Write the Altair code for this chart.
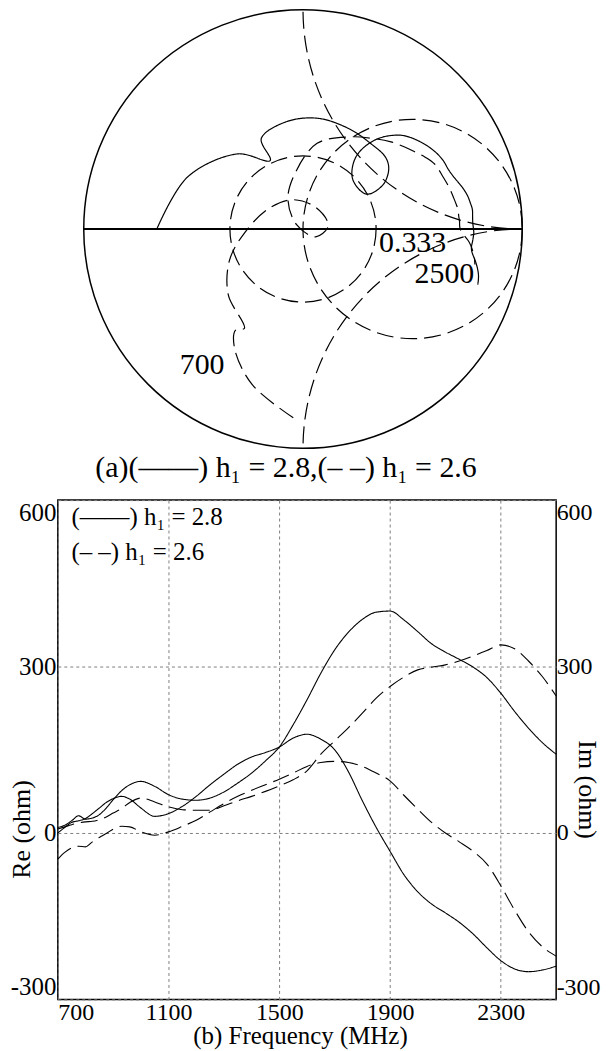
import altair as alt
import numpy as np
import pandas as pd

FONT = "Liberation Serif"

# ---------------- data ----------------
freq = [700, 725, 750, 775, 800, 825, 850, 875, 900, 930, 960,
        1000, 1050, 1100, 1150, 1200, 1250, 1300, 1350, 1400, 1450,
        1500, 1550, 1600, 1650, 1700, 1750, 1800, 1850, 1900, 1950,
        2000, 2050, 2100, 2150, 2200, 2250, 2300, 2350, 2400, 2450, 2500]

re_28 = [10, 14, 22, 31, 25, 27, 33, 45, 60, 76, 87,
         93, 84, 69, 61, 59, 63, 74, 90, 108, 130,
         155, 195, 240, 288, 330, 362, 385, 398, 400, 384,
         363, 341, 326, 313, 299, 280, 252, 219, 189, 163, 142]
im_28 = [0, 10, 19, 22, 26, 35, 45, 55, 62, 66, 61,
         45, 30, 35, 48, 66, 87, 106, 124, 137, 145,
         155, 171, 178, 169, 150, 110, 58, 10, -33, -75,
         -106, -128, -144, -161, -182, -207, -230, -245, -250, -247, -240]
re_26 = [7, 11, 15, 18, 20, 21, 24, 29, 36, 44, 55,
         63, 56, 47, 42, 41, 41, 49, 58, 66, 75,
         85, 96, 112, 142, 166, 190, 216, 243, 264, 281,
         294, 299, 303, 310, 319, 329, 339, 332, 310, 282, 247]
im_26 = [-47, -35, -27, -24, -25, -16, -8, -1, 7, 12, 11,
         2, -4, 2, 12, 23, 38, 53, 66, 77, 87,
         97, 108, 120, 127, 129, 127, 120, 108, 94, 68,
         43, 19, 0, -16, -33, -56, -95, -139, -178, -205, -222]

h_values = ["2.8", "2.6"]
z0 = 50.0

x_ticks = [700, 1100, 1500, 1900, 2300]
y_ticks = [-300, 0, 300, 600]

legend_text = ["(\u2014\u2014) h\u2081 = 2.8", "(\u2013 \u2013) h\u2081 = 2.6"]
smith_labels = ["700", "0.333", "2500"]

# Smith chart furniture: circle centres and radii (reflection-coefficient units)
grid_cx = [0.0, 0.5, 0.0, 1.0, 1.0]
grid_cy = [0.0, 0.0, 0.0, 1.0, -1.0]
grid_r = [1.0, 0.5, 1.0 / 3.0, 1.0, 1.0]

# ---------------- tables ----------------
rows = []
for h, re_v, im_v in [("2.8", re_28, im_28), ("2.6", re_26, im_26)]:
    for kind, vals in [("Re", re_v), ("Im", im_v)]:
        for f, v in zip(freq, vals):
            rows.append({"freq": f, "value": v, "h": h, "series": kind + h})
long_df = pd.DataFrame(rows)

srows = []
for h, re_v, im_v in [("2.8", re_28, im_28), ("2.6", re_26, im_26)]:
    z = (np.array(re_v, dtype=float) + 1j * np.array(im_v, dtype=float)) / z0
    g = (z - 1) / (z + 1)
    for i, (f, gv) in enumerate(zip(freq, g)):
        srows.append({"idx": i, "freq": f, "gr": gv.real, "gi": gv.imag, "h": h})
smith_df = pd.DataFrame(srows)

# ---------------- Smith chart ----------------
PX = 220.0  # pixels per unit of reflection coefficient
sx = alt.Scale(domain=[-1, 1], nice=False, zero=False)
sy = alt.Scale(domain=[-1, 1], nice=False, zero=False)
dash_pat = [17, 7]


def grid_circle(i, dashed, clip, width):
    d = pd.DataFrame({"gx": [grid_cx[i]], "gy": [grid_cy[i]]})
    kw = dict(shape="circle", filled=False, size=(2 * grid_r[i] * PX) ** 2,
              color="black", opacity=1, strokeWidth=width, clip=clip)
    if dashed:
        kw["strokeDash"] = dash_pat
    return alt.Chart(d).mark_point(**kw).encode(
        x=alt.X("gx:Q", scale=sx, axis=None),
        y=alt.Y("gy:Q", scale=sy, axis=None),
    )


outer = grid_circle(0, False, False, 1.5)
r1 = grid_circle(1, True, False, 1.2)
vswr = grid_circle(2, True, False, 1.2)
xp = grid_circle(3, True, True, 1.2)
xm = grid_circle(4, True, True, 1.2)

axis_df = pd.DataFrame({"a0": [-1.0], "a1": [1.0], "b0": [0.0]})
real_axis = alt.Chart(axis_df).mark_rule(color="black", strokeWidth=2).encode(
    x=alt.X("a0:Q", scale=sx, axis=None), x2="a1:Q",
    y=alt.Y("b0:Q", scale=sy, axis=None),
)

smith_curves = alt.Chart(smith_df).mark_line(
    color="black", strokeWidth=1.2, interpolate="catmull-rom"
).encode(
    x=alt.X("gr:Q", scale=sx, axis=None),
    y=alt.Y("gi:Q", scale=sy, axis=None),
    order="idx:Q",
    detail="h:N",
    strokeDash=alt.StrokeDash("h:N", scale=alt.Scale(domain=h_values, range=[[1, 0], dash_pat]), legend=None),
)

lab_df = pd.DataFrame({"t": smith_labels, "lx": [-0.46, 0.50, 0.645], "ly": [-0.62, -0.065, -0.205]})
smith_text = alt.Chart(lab_df).mark_text(font=FONT, fontSize=30, color="black", align="center", baseline="middle").encode(
    x=alt.X("lx:Q", scale=sx, axis=None),
    y=alt.Y("ly:Q", scale=sy, axis=None),
    text="t:N",
)

smith = alt.layer(outer, r1, vswr, xp, xm, real_axis, smith_curves, smith_text).properties(
    width=440, height=440,
    title=alt.TitleParams(
        text="(a)(\u2014\u2014) h\u2081 = 2.8,(\u2013 \u2013) h\u2081 = 2.6",
        orient="bottom", font=FONT, fontSize=30, fontWeight="normal", color="black",
        offset=2, dx=-17,
    ),
)

spacer = alt.Chart(pd.DataFrame({"s": [0]})).mark_point(opacity=0).encode(
    x=alt.value(1), y=alt.value(220)
).properties(width=21.5, height=440)

top_row = alt.hconcat(spacer, smith, spacing=0)

# ---------------- Re / Im chart ----------------
xs = alt.Scale(domain=[700, 2500], nice=False, zero=False)
ys = alt.Scale(domain=[-300, 600], nice=False, zero=False)

x_axis = alt.Axis(values=x_ticks, title="(b) Frequency (MHz)", labelFlush=True, grid=True,
                  gridDash=[3, 3], gridColor="#808080", ticks=False, domain=False,
                  labelExpr="datum.value", labelFontSize=24, labelPadding=1,
                  titleFontSize=25, titleX=243, titleY=36, titleBaseline="middle")

lines = alt.Chart(long_df).mark_line(color="black", strokeWidth=1.1, interpolate="monotone").encode(
    x=alt.X("freq:Q", scale=xs, axis=x_axis),
    y=alt.Y("value:Q", scale=ys, axis=alt.Axis(
        values=y_ticks, title="Re (ohm)", labelFlush=True, grid=True, gridDash=[3, 3],
        gridColor="#808080", ticks=False, domain=False, labelPadding=2,
        labelExpr="datum.value", labelFontSize=25,
        titleX=-36, titleY=330, titleAngle=270, titleBaseline="middle")),
    detail="series:N",
    strokeDash=alt.StrokeDash("h:N", scale=alt.Scale(domain=h_values, range=[[1, 0], [18, 6]]), legend=None),
)

right_axis = alt.Chart(long_df).mark_line(opacity=0).encode(
    x=alt.X("freq:Q", scale=xs, axis=x_axis),
    y=alt.Y("value:Q", scale=ys, axis=alt.Axis(
        orient="right", values=y_ticks, title="Im (ohm)", labelFlush=True, grid=False,
        ticks=False, domain=False, labelPadding=0, labelExpr="datum.value", labelFontSize=24,
        titleX=30, titleY=290, titleAngle=90, titleBaseline="middle")),
    detail="series:N",
)

leg_df = pd.DataFrame({"t": legend_text, "fx": [749, 749], "vy": [570, 507]})
legend = alt.Chart(leg_df).mark_text(font=FONT, fontSize=25, color="black", align="left", baseline="middle").encode(
    x=alt.X("fx:Q", scale=xs, axis=x_axis),
    y=alt.Y("vy:Q", scale=ys, axis=None),
    text="t:N",
)

bottom = alt.layer(lines, right_axis, legend).resolve_scale(y="independent").properties(
    width=500, height=501,
    view=alt.ViewBackground(stroke="black", strokeWidth=1.5),
)

chart = alt.concat(top_row, bottom, columns=1, align="none", spacing=15).properties(
    padding={"left": 0, "right": 0, "top": -4, "bottom": 0}
).configure_view(
    stroke="transparent"
).configure_axis(
    labelFont=FONT, titleFont=FONT, labelFontSize=25, titleFontSize=26,
    labelColor="black", titleColor="black", titleFontWeight="normal",
)

chart.save("out.html", embed_options={"renderer": "svg", "actions": False})
